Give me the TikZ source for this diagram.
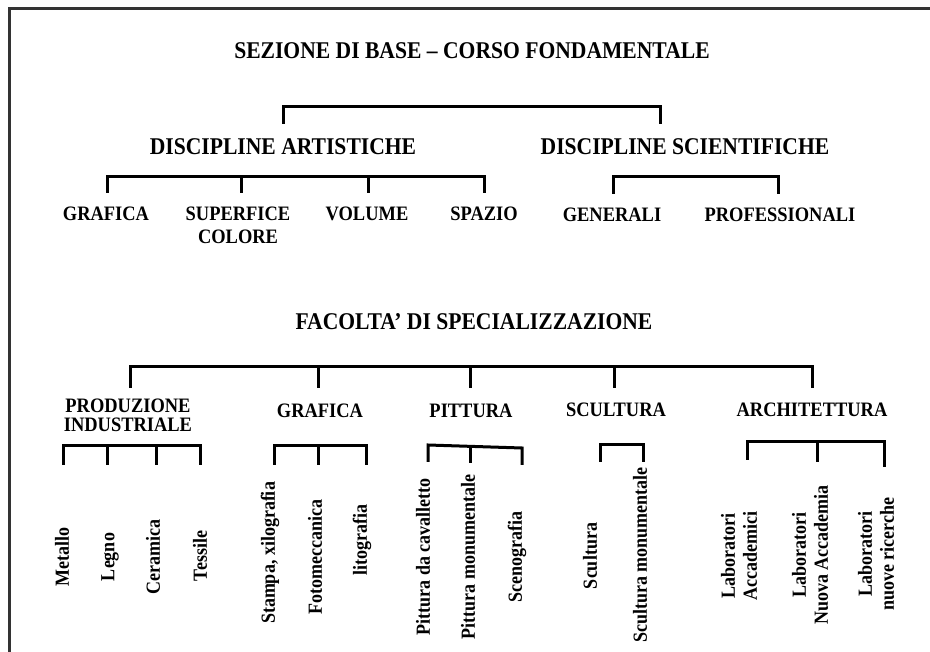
\documentclass[tikz,border=0pt]{standalone}
\usepackage{fontspec}
\setmainfont[FakeStretch=0.9]{Liberation Serif}

\tikzset{
  bar/.style={line width=3pt},
  frame/.style={line width=2.5pt, draw=black!80},
  title/.style={font=\fontsize{24}{26}\selectfont\bfseries},
  head/.style={font=\fontsize{24}{26}\selectfont\bfseries},
  sub/.style={font=\fontsize{20.5}{19}\selectfont\bfseries, align=center},
  leaf/.style={font=\fontsize{20}{22}\selectfont\bfseries, rotate=90, align=center},
}

\begin{document}
\begin{tikzpicture}[x=1pt, y=-1pt]
    \useasboundingbox (0,0) rectangle (930,652);
    \draw[frame] (9.5,652) -- (9.5,8.5) -- (930,8.5);

    % sezione di base
    \node[title] (base) at (472,51) {SEZIONE DI BASE -- CORSO FONDAMENTALE};
    \node[head] (artist) at (283,146.5) {DISCIPLINE ARTISTICHE};
    \node[head] (scient) at (685,146.5) {DISCIPLINE SCIENTIFICHE};
    \coordinate (artist-t) at (283,124);
    \coordinate (scient-t) at (660,124);
    \draw[bar] (artist-t) -- ++(0,-17) -| (scient-t);

    \node[sub] (grafica) at (106,214) {GRAFICA};
    \node[sub, font=\fontsize{20.5}{23}\selectfont\bfseries] (superf) at (238,225.5) {SUPERFICE\\COLORE};
    \node[sub] (volume) at (367,214) {VOLUME};
    \node[sub] (spazio) at (484,214) {SPAZIO};
    \coordinate (grafica-t) at (107,193);
    \coordinate (superf-t) at (241,193);
    \coordinate (volume-t) at (368,193);
    \coordinate (spazio-t) at (484,193);
    \draw[bar] (grafica-t) -- ++(0,-16) -| (spazio-t);
    \foreach \n in {superf,volume}
        \draw[bar] (\n-t) -- ++(0,-16);

    \node[sub] (generali) at (612,214.5) {GENERALI};
    \node[sub] (profess) at (780,214.5) {PROFESSIONALI};
    \coordinate (generali-t) at (613,194);
    \coordinate (profess-t) at (778,194);
    \draw[bar] (generali-t) -- ++(0,-17) -| (profess-t);

    % facolta' di specializzazione
    \node[title] (facolta) at (474,322) {FACOLTA' DI SPECIALIZZAZIONE};
    \node[sub] (produz) at (128,415.5) {PRODUZIONE\\INDUSTRIALE};
    \node[sub] (grafica2) at (320,411) {GRAFICA};
    \node[sub] (pittura) at (471,411) {PITTURA};
    \node[sub] (scultura) at (616,410) {SCULTURA};
    \node[sub] (archit) at (812,410) {ARCHITETTURA};
    \coordinate (produz-t) at (130,388);
    \coordinate (grafica2-t) at (318,388);
    \coordinate (pittura-t) at (470,388);
    \coordinate (scultura-t) at (614,388);
    \coordinate (archit-t) at (812,388);
    \draw[bar] (produz-t) -- ++(0,-21) -| (archit-t);
    \foreach \n in {grafica2,pittura,scultura}
        \draw[bar] (\n-t) -- ++(0,-21);

    % produzione industriale
    \node[leaf] (metallo) at (62,557) {Metallo};
    \node[leaf] (legno) at (110,557) {Legno};
    \node[leaf] (ceramica) at (153,557) {Ceramica};
    \node[leaf] (tessile) at (200,556) {Tessile};
    \coordinate (metallo-t) at (63,465);
    \coordinate (legno-t) at (107,465);
    \coordinate (ceramica-t) at (156,465);
    \coordinate (tessile-t) at (200,465);
    \draw[bar] (metallo-t) -- ++(0,-19) -| (tessile-t);
    \foreach \n in {legno,ceramica}
        \draw[bar] (\n-t) -- ++(0,-19);

    % grafica
    \node[leaf] (stampa) at (270,553) {Stampa, xilografia};
    \node[leaf] (fotomec) at (315,557) {Fotomeccanica};
    \node[leaf] (litogr) at (362,540) {litografia};
    \coordinate (stampa-t) at (274,465);
    \coordinate (fotomec-t) at (318,465);
    \coordinate (litogr-t) at (366,465);
    \draw[bar] (stampa-t) -- ++(0,-19) -| (litogr-t);
    \draw[bar] (fotomec-t) -- ++(0,-19);

    % pittura
    \node[leaf] (cavall) at (423,557) {Pittura da cavalletto};
    \node[leaf] (monum) at (468,557) {Pittura monumentale};
    \node[leaf] (sceno) at (517,557) {Scenografia};
    \coordinate (cavall-t) at (428,462);
    \coordinate (monum-t) at (470,463);
    \coordinate (sceno-t) at (522,465);
    \draw[bar] (cavall-t) -- ++(0,-17) -- (522,448) -- (sceno-t);
    \draw[bar] (monum-t) -- ++(0,-17);

    % scultura
    \node[leaf] (scult) at (590,556) {Scultura};
    \node[leaf] (scmonum) at (640,555) {Scultura monumentale};
    \coordinate (scult-t) at (600,462);
    \coordinate (scmonum-t) at (643,462);
    \draw[bar] (scult-t) -- ++(0,-17) -| (scmonum-t);

    % architettura
    \node[leaf] (labacc) at (739,556) {Laboratori\\Accademici};
    \node[leaf] (labnuova) at (810,555) {Laboratori\\Nuova Accademia};
    \node[leaf] (labric) at (876,554) {Laboratori\\nuove ricerche};
    \coordinate (labacc-t) at (747,460);
    \coordinate (labnuova-t) at (817,462);
    \coordinate (labric-t) at (884,467);
    \draw[bar] (labacc-t) -- ++(0,-18) -| (labric-t);
    \draw[bar] (labnuova-t) -- ++(0,-20);
\end{tikzpicture}
\end{document}
